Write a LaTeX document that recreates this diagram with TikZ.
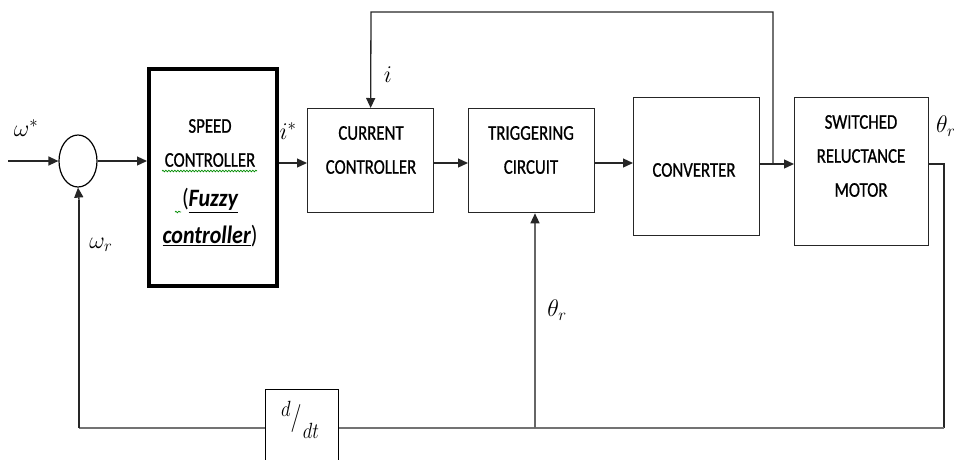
\RequirePackage{fix-cm}
\documentclass[tikz,border=0pt]{standalone}
\usepackage{fontspec}
\usepackage{graphicx}
\newfontfamily\boxfont[FakeStretch=0.8,FakeBold=0.8]{Carlito}
\newfontfamily\fuzzyfont[FakeStretch=0.88]{Carlito}
\usetikzlibrary{arrows.meta,decorations.pathmorphing,shapes.geometric,calc}
\newcommand{\sqz}[1]{\scalebox{0.85}[1]{#1}}

\begin{document}
\begin{tikzpicture}[x=1pt,y=-1pt,
  line/.style={line width=1.3pt, draw=black!85},
  arr/.style={line, -{Triangle[length=10pt,width=9pt]}},
  blk/.style={draw=black!85, line width=1.3pt, rectangle, inner sep=0pt, anchor=north west, fill=white},
  btext/.style={font=\boxfont\fontsize{21}{34}\selectfont, align=center, inner sep=0pt},
  mlabel/.style={font=\fontsize{24}{28}\selectfont, inner sep=0pt},
  fb/.style={line width=2.4pt, draw=black!55},
  squig/.style={draw=green!55!black, line width=0.7pt, decorate,
    decoration={snake, amplitude=0.8pt, segment length=3pt}}
]
\useasboundingbox (0,0) rectangle (954,459);

% blocks
\node[draw=black, ellipse, line width=1.2pt, minimum width=38pt, minimum height=52pt, inner sep=0pt] (sum) at (78,161) {};
\node[blk, draw=black, line width=4pt, minimum width=128pt, minimum height=217pt] (spd) at (147,67) {};
\node[blk, minimum width=126pt, minimum height=104pt] (cur) at (307,108) {};
\node[blk, minimum width=126pt, minimum height=104pt] (trg) at (468,108) {};
\node[blk, minimum width=126pt, minimum height=138pt] (cnv) at (633,97) {};
\node[blk, minimum width=134pt, minimum height=148pt] (srm) at (794,97) {};

% block texts
\node[btext] (spdtxt) at (210,143) {SPEED\\CONTROLLER};
\node[btext, font=\fuzzyfont\fontsize{25}{37}\selectfont] (fuzzy) at (210,218)
  {(\textbf{\textit{\underline{Fuzzy}}}\\\textbf{\textit{\underline{controller}}})};
\draw[squig] (162,171) -- (257,171);
\draw[squig] (175,212) -- (181,212);
\node[btext] (curtxt) at (371,150) {CURRENT\\CONTROLLER};
\node[btext] (trgtxt) at (531,150) {TRIGGERING\\CIRCUIT};
\node[btext] (cnvtxt) at (694,170) {CONVERTER};
\node[btext] (srmtxt) at (861,156) {SWITCHED\\RELUCTANCE\\MOTOR};

% forward path
\coordinate (in) at (8,161);
\coordinate (rowA) at (0,163);
\coordinate (rowB) at (0,164);
\draw[arr] (in) -- (sum.west);
\draw[arr] (sum.east) -- (sum.east -| spd.west);
\draw[arr] (spd.east |- rowA) -- (cur.west |- rowA);
\draw[arr] (cur.east |- rowA) -- (trg.west |- rowA);
\draw[arr] (trg.east |- rowA) -- (cnv.west |- rowA);
\draw[arr] (cnv.east |- rowB) -- (srm.west |- rowB);

% current feedback
\coordinate (tap) at (773,164);
\coordinate (itop) at (371,12);
\draw[arr] (tap) |- (itop) -- (cur.north);

% position / speed feedback
\coordinate (oR) at (944,164);
\coordinate (bR) at (944,428);
\coordinate (bL) at (79,428);
\coordinate (tb) at (535,428);
\draw[line] (srm.east |- oR) -- (oR) -- (bR);
\draw[fb] (bR) -- (bL);
\draw[line] (bL) -- (79,200);
\draw[arr] (79,200) -- (sum.south);
\draw[line width=1.6pt, draw=black!60] (tb) -- (535,222);
\draw[arr] (535,222) -- (tb |- trg.south);

% differentiator
\node[blk, draw=black, line width=1.3pt, minimum width=73pt, minimum height=82pt] (ddt) at (265,389) {};
\node[inner sep=0pt, font=\fontsize{22}{25}\selectfont] (dnum) at (286,409) {\sqz{$d$}};
\node[inner sep=0pt, font=\fontsize{28}{32}\selectfont] (dsl) at (296,418) {\sqz{$/$}};
\node[inner sep=0pt, font=\fontsize{22}{25}\selectfont] (dden) at (311,431) {\sqz{$dt$}};

% signal labels
\node[mlabel] (lw) at (26,128) {$\omega^*$};
\node[mlabel] (lis) at (288,131) {$i^*$};
\node[mlabel] (li) at (388,75) {$i$};
\node[mlabel] (lwr) at (101,245) {$\omega_r$};
\node[mlabel] (lth) at (557,310) {$\theta_r$};
\node[mlabel, anchor=west] (lto) at (936,126) {$\theta_r$};
\end{tikzpicture}
\end{document}
